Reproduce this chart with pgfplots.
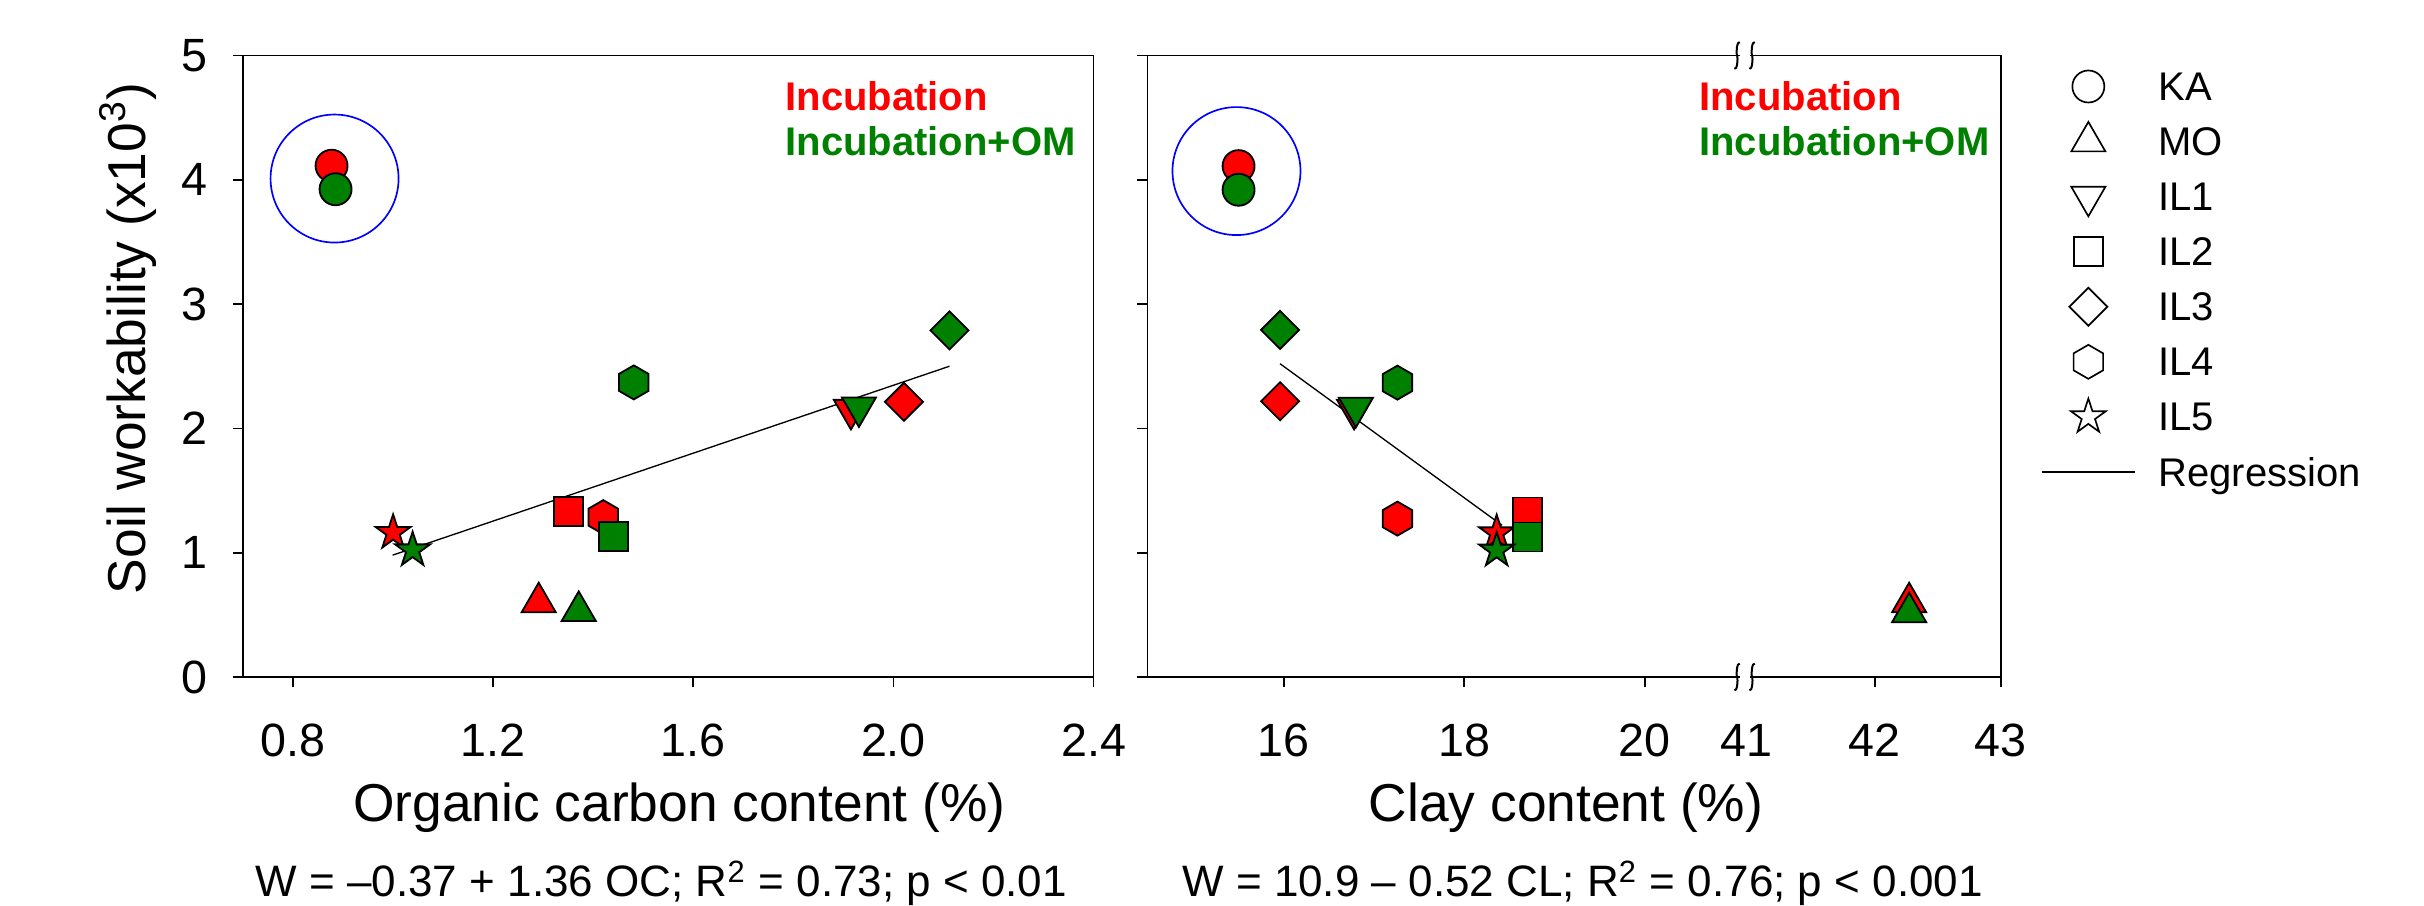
\documentclass[border=0pt]{standalone}
\usepackage{fontspec}
\setmainfont{Liberation Sans}
\usepackage{pgfplots}
\pgfplotsset{compat=1.18}
\usetikzlibrary{plotmarks}
\definecolor{ogreen}{RGB}{0,128,0}

\pgfdeclareplotmark{mtri}{%
 \pgfpathmoveto{\pgfpointpolar{90}{\pgfplotmarksize}}%
 \pgfpathlineto{\pgfpointpolar{210}{\pgfplotmarksize}}%
 \pgfpathlineto{\pgfpointpolar{330}{\pgfplotmarksize}}%
 \pgfpathclose\pgfusepathqfillstroke}
\pgfdeclareplotmark{mitri}{%
 \pgfpathmoveto{\pgfpointpolar{270}{\pgfplotmarksize}}%
 \pgfpathlineto{\pgfpointpolar{30}{\pgfplotmarksize}}%
 \pgfpathlineto{\pgfpointpolar{150}{\pgfplotmarksize}}%
 \pgfpathclose\pgfusepathqfillstroke}
\pgfdeclareplotmark{mdia}{%
 \pgfpathmoveto{\pgfpointpolar{90}{\pgfplotmarksize}}%
 \pgfpathlineto{\pgfpointpolar{180}{\pgfplotmarksize}}%
 \pgfpathlineto{\pgfpointpolar{270}{\pgfplotmarksize}}%
 \pgfpathlineto{\pgfpointpolar{0}{\pgfplotmarksize}}%
 \pgfpathclose\pgfusepathqfillstroke}
\pgfdeclareplotmark{mhex}{%
 \pgfpathmoveto{\pgfpointpolar{90}{\pgfplotmarksize}}%
 \pgfpathlineto{\pgfpointpolar{150}{\pgfplotmarksize}}%
 \pgfpathlineto{\pgfpointpolar{210}{\pgfplotmarksize}}%
 \pgfpathlineto{\pgfpointpolar{270}{\pgfplotmarksize}}%
 \pgfpathlineto{\pgfpointpolar{330}{\pgfplotmarksize}}%
 \pgfpathlineto{\pgfpointpolar{30}{\pgfplotmarksize}}%
 \pgfpathclose\pgfusepathqfillstroke}
\pgfdeclareplotmark{mstar}{%
 \pgfpathmoveto{\pgfpointpolar{90}{\pgfplotmarksize}}%
 \pgfpathlineto{\pgfpointpolar{126}{0.382\pgfplotmarksize}}%
 \pgfpathlineto{\pgfpointpolar{162}{\pgfplotmarksize}}%
 \pgfpathlineto{\pgfpointpolar{198}{0.382\pgfplotmarksize}}%
 \pgfpathlineto{\pgfpointpolar{234}{\pgfplotmarksize}}%
 \pgfpathlineto{\pgfpointpolar{270}{0.382\pgfplotmarksize}}%
 \pgfpathlineto{\pgfpointpolar{306}{\pgfplotmarksize}}%
 \pgfpathlineto{\pgfpointpolar{342}{0.382\pgfplotmarksize}}%
 \pgfpathlineto{\pgfpointpolar{18}{\pgfplotmarksize}}%
 \pgfpathlineto{\pgfpointpolar{54}{0.382\pgfplotmarksize}}%
 \pgfpathclose\pgfusepathqfillstroke}

\tikzset{
  ann/.style={anchor=base west, inner sep=0pt, font=\bfseries\fontsize{12}{14}\selectfont},
  eqn/.style={anchor=base west, inner sep=0pt, font=\fontsize{13.2}{15}\selectfont},
}
\pgfplotsset{
  panel/.style={
    scale only axis, height=186.45pt,
    ymin=0, ymax=5, ytick={0,1,2,3,4,5},
    axis line style={line width=0.5pt},
    every tick/.style={black, line width=0.5pt},
    tick align=outside, xtick pos=bottom, ytick pos=left,
    major tick length=3pt,
    ticklabel style={font=\fontsize{14}{16}\selectfont},
    xticklabel style={anchor=base, yshift=-20.9pt},
    yticklabel style={anchor=east, inner sep=0pt, xshift=-7.5pt},
    label style={font=\fontsize{16}{19}\selectfont},
    clip=false,
  },
  KA/.style={only marks, mark=*, mark size=4.8pt},
  MO/.style={only marks, mark=mtri, mark size=5.9pt},
  IL1/.style={only marks, mark=mitri, mark size=5.9pt},
  IL2/.style={only marks, mark=square*, mark size=4.35pt},
  IL3/.style={only marks, mark=mdia, mark size=5.7pt},
  IL4/.style={only marks, mark=mhex, mark size=5.1pt},
  IL5/.style={only marks, mark=mstar, mark size=5.5pt},
  R/.style={mark options={draw=black, fill=red, line width=0.55pt}},
  G/.style={mark options={draw=black, fill=ogreen, line width=0.55pt}},
  W/.style={mark options={draw=black, fill=white, line width=0.5pt}},
  limg/.style={legend image code/.code={\path[draw=none,fill=none] (0pt,-6.3pt) rectangle (28pt,6.3pt);
      \draw[mark repeat=2,mark phase=2,##1] plot coordinates {(0pt,0pt)(14pt,0pt)(28pt,0pt)};}},
  lline/.style={legend image code/.code={\path[draw=none,fill=none] (0pt,-6.3pt) rectangle (28pt,6.3pt);
      \draw[##1] (0pt,0pt) -- (28pt,0pt);}},
}

\begin{document}
\begin{tikzpicture}
% ---------------- left panel ----------------
\begin{axis}[panel, at={(72.9pt,68.7pt)}, anchor=south west, width=255.18pt,
  xmin=0.7, xmax=2.4,
  xtick={0.8,1.2,1.6,2.0,2.4}, xticklabels={0.8,1.2,1.6,2.0,2.4},
  yticklabels={0,1,2,3,4,5},
  xlabel={Organic carbon content (\%)},
  xlabel style={at={(axis description cs:0.513,-0.2328)}, anchor=base},
  ylabel={Soil workability (x10\textsuperscript{3})},
  ylabel style={at={(axis description cs:-0.1352,0.545)}, anchor=center},
]
\addplot[only marks, mark=o, mark size=19.2pt, mark options={draw=blue, line width=0.5pt}] coordinates {(0.883,4.01)};
\addplot[black, line width=0.4pt] coordinates {(0.999,0.98) (2.112,2.50)};
% Incubation (red)
\addplot[KA,R]  coordinates {(0.877,4.113)};
\addplot[MO,R]  coordinates {(1.291,0.60)};
\addplot[IL1,R] coordinates {(1.915,2.15)};
\addplot[IL2,R] coordinates {(1.350,1.330)};
\addplot[IL3,R] coordinates {(2.021,2.214)};
\addplot[IL4,R] coordinates {(1.420,1.286)};
\addplot[IL5,R] coordinates {(1.000,1.161)};
% Incubation+OM (green)
\addplot[KA,G]  coordinates {(0.885,3.924)};
\addplot[MO,G]  coordinates {(1.371,0.53)};
\addplot[IL1,G] coordinates {(1.931,2.17)};
\addplot[IL2,G] coordinates {(1.441,1.129)};
\addplot[IL3,G] coordinates {(2.112,2.789)};
\addplot[IL4,G] coordinates {(1.481,2.370)};
\addplot[IL5,G] coordinates {(1.039,1.021)};
\node[ann, text=red] at (axis description cs:0.637,0.912) {Incubation};
\node[ann, text=ogreen] at (axis description cs:0.637,0.839) {Incubation+OM};
\node[eqn] at (axis description cs:0.0141,-0.3535) {W = –0.37 + 1.36 OC; R\textsuperscript{2} = 0.73; p < 0.01};
\end{axis}
% ---------------- right panel ----------------
\begin{axis}[panel, at={(344.22pt,68.7pt)}, anchor=south west, width=255.99pt,
  xmin=14.49, xmax=23.945,
  xtick={16,18,20,21.13,22.549,23.945}, xticklabels={16,18,20,41,42,43},
  yticklabels={},
  xlabel={Clay content (\%)},
  xlabel style={at={(axis description cs:0.4906,-0.2328)}, anchor=base},
  legend style={at={(axis description cs:1.0472,0.9839)}, anchor=north west,
    draw=none, fill=none, inner sep=0pt, outer sep=0pt,
    row sep=3.92pt, column sep=6.8pt,
    font=\fontsize{12}{14}\selectfont,
    nodes={inner sep=0pt, text depth=0pt}},
  legend cell align=left,
]
\addlegendimage{KA,W,limg}\addlegendentry{KA}
\addlegendimage{MO,W,limg}\addlegendentry{MO}
\addlegendimage{IL1,W,limg}\addlegendentry{IL1}
\addlegendimage{IL2,W,limg}\addlegendentry{IL2}
\addlegendimage{IL3,W,limg}\addlegendentry{IL3}
\addlegendimage{IL4,W,limg}\addlegendentry{IL4}
\addlegendimage{IL5,W,limg}\addlegendentry{IL5}
\addlegendimage{black, line width=0.4pt, lline}\addlegendentry{Regression}
\addplot[only marks, mark=o, mark size=19.2pt, mark options={draw=blue, line width=0.5pt}] coordinates {(15.477,4.07)};
\addplot[black, line width=0.4pt] coordinates {(15.96,2.52) (18.42,1.22)};
% Incubation (red); x = clay content on the broken axis (41..43 mapped to 21.13..23.945)
\addplot[KA,R]  coordinates {(15.50,4.11)};
\addplot[MO,R]  coordinates {(22.93,0.60)};
\addplot[IL1,R] coordinates {(16.78,2.15)};
\addplot[IL2,R] coordinates {(18.70,1.328)};
\addplot[IL3,R] coordinates {(15.96,2.218)};
\addplot[IL4,R] coordinates {(17.26,1.274)};
\addplot[IL5,R] coordinates {(18.36,1.158)};
% Incubation+OM (green)
\addplot[KA,G]  coordinates {(15.50,3.92)};
\addplot[MO,G]  coordinates {(22.93,0.52)};
\addplot[IL1,G] coordinates {(16.80,2.167)};
\addplot[IL2,G] coordinates {(18.70,1.126)};
\addplot[IL3,G] coordinates {(15.96,2.792)};
\addplot[IL4,G] coordinates {(17.26,2.368)};
\addplot[IL5,G] coordinates {(18.36,1.019)};
\node[ann, text=red] at (axis description cs:0.646,0.912) {Incubation};
\node[ann, text=ogreen] at (axis description cs:0.646,0.839) {Incubation+OM};
\node[eqn] at (axis description cs:0.0402,-0.3535) {W = 10.9 – 0.52 CL; R\textsuperscript{2} = 0.76; p < 0.001};
\coordinate (bt) at (rel axis cs:0.6998,1);
\coordinate (bb) at (rel axis cs:0.6998,0);
\end{axis}
% axis break marks
\fill[white] ([xshift=-1.5pt,yshift=-1pt]bt) rectangle ([xshift=1.5pt,yshift=1pt]bt);
\fill[white] ([xshift=-1.5pt,yshift=-4.3pt]bb) rectangle ([xshift=1.5pt,yshift=1pt]bb);
\foreach \c in {bt,bb}{
  \foreach \dx in {-2.25pt,2.25pt}{
    \draw[line width=0.6pt, shift={(\c)}, xshift=\dx]
      (0.8pt,4pt) .. controls (0pt,4.4pt) and (-0.35pt,1pt) .. (0pt,0pt)
      .. controls (0.35pt,-1pt) and (0pt,-4.4pt) .. (-0.8pt,-4pt);
  }
}
\pgfresetboundingbox
\path[use as bounding box] (0pt,0pt) rectangle (727.2pt,271.8pt);
\end{tikzpicture}
\end{document}
